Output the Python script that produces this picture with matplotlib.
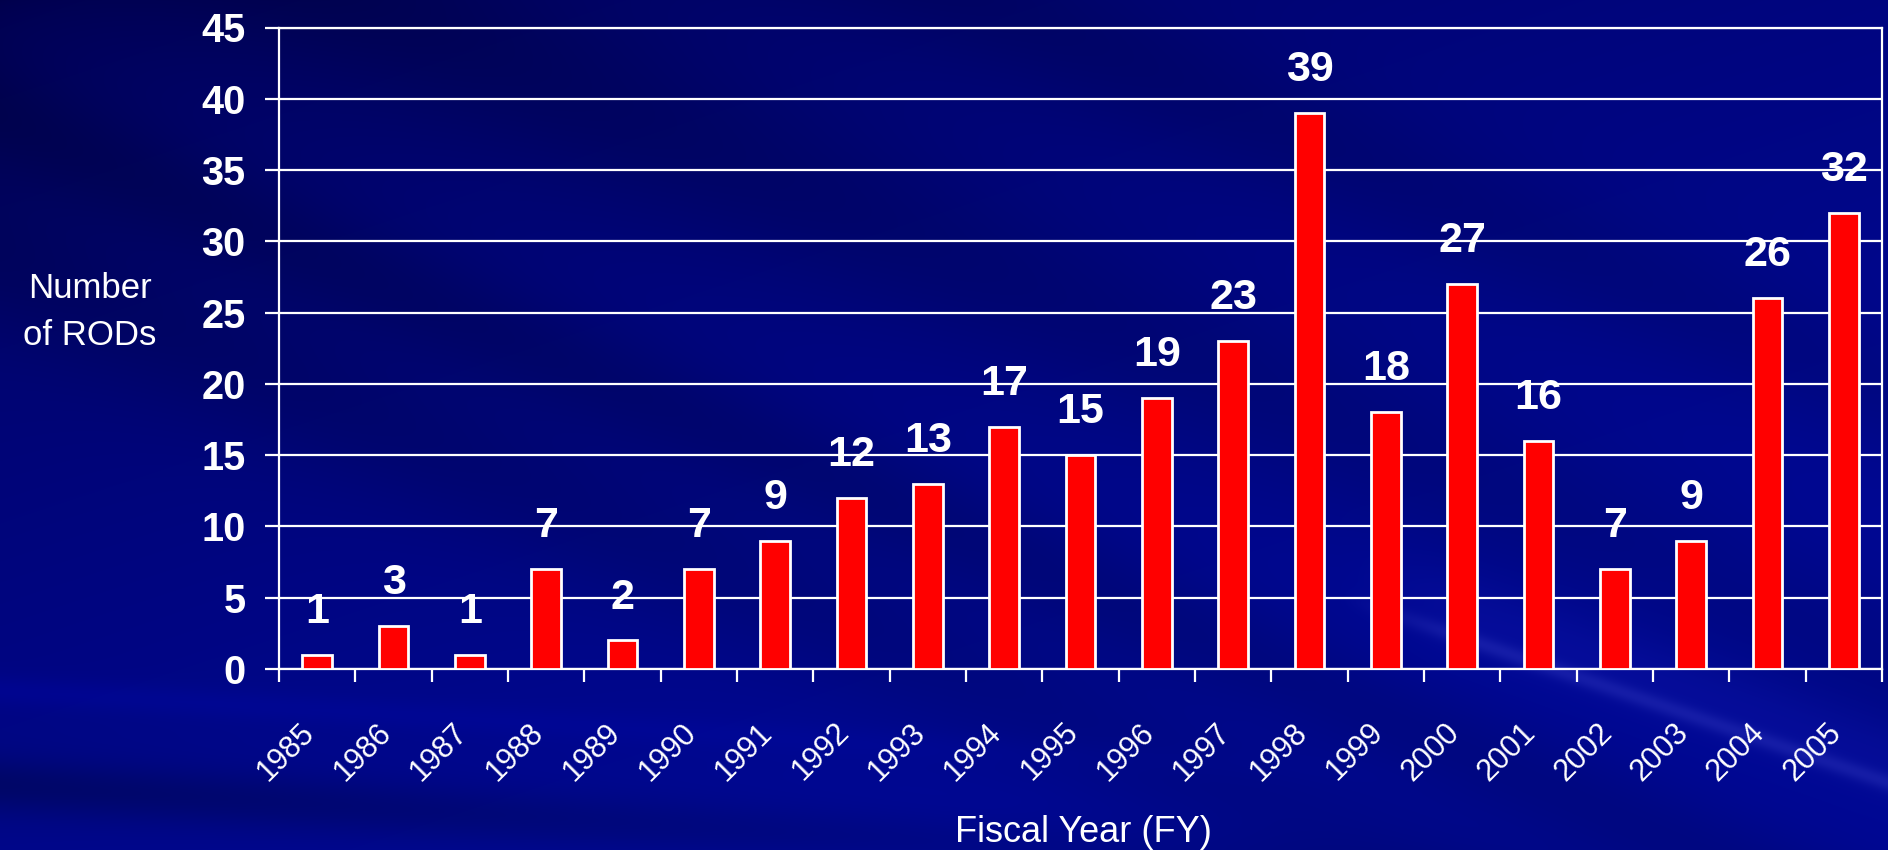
import numpy as np
import matplotlib
matplotlib.use("Agg")
import matplotlib.pyplot as plt
import matplotlib.transforms as mtransforms

plt.rcParams['font.family'] = ['Liberation Sans', 'DejaVu Sans']

# ---- data ----
years = ['1985', '1986', '1987', '1988', '1989', '1990', '1991', '1992', '1993', '1994',
         '1995', '1996', '1997', '1998', '1999', '2000', '2001', '2002', '2003', '2004', '2005']
rods = [1, 3, 1, 7, 2, 7, 9, 12, 13, 17, 15, 19, 23, 39, 18, 27, 16, 7, 9, 26, 32]
yticks = [0, 5, 10, 15, 20, 25, 30, 35, 40, 45]
ylabel_text = 'Number\nof RODs'
xlabel_text = 'Fiscal Year (FY)'

W, H, DPI = 1888, 850, 100
fig = plt.figure(figsize=(W / DPI, H / DPI), dpi=DPI)

# ---- background (decorative gradient with diagonal streaks) ----
yy, xx = np.mgrid[0:H, 0:W].astype(float)
base_dark = np.array([0.00, 0.00, 0.30])
base_bright = np.array([0.00, 0.03, 0.58])
t = np.clip((xx / W) * 0.55 + (yy / H) * 0.75, 0, 1) ** 0.55
img = base_dark[None, None, :] * (1 - t[..., None]) + base_bright[None, None, :] * t[..., None]
# dark diagonal streaks (upper-left to lower-right)
d = yy - 0.43 * xx
for c0, wdt, amt in [(120, 60, 0.07), (260, 80, 0.06), (-150, 90, 0.06), (-420, 70, 0.05)]:
    m = np.exp(-((d - c0) / wdt) ** 2)
    img[..., 2] -= amt * m
# darker band near bottom
d2 = yy - 0.06 * xx
m = np.exp(-((d2 - 785) / 28) ** 2)
img[..., 2] -= 0.12 * m * np.clip(1 - xx / 1700, 0, 1)
# lighter band near lower left
m = np.exp(-((d2 - 690) / 15) ** 2)
img[..., 2] += 0.05 * m * np.clip(1 - xx / 1500, 0, 1)
# light streak at lower right
d3 = yy - 0.34 * (xx - 1352) - 600
fade = np.clip((xx - 1340) / 120, 0, 1)
m = np.exp(-(d3 / 9) ** 2) * fade
m_wide = np.exp(-((d3 + 25) / 40) ** 2) * fade
img[..., 0] += 0.07 * m + 0.02 * m_wide
img[..., 1] += 0.07 * m + 0.02 * m_wide
img[..., 2] += 0.06 * m + 0.03 * m_wide
img = np.clip(img, 0, 1)

bg = fig.add_axes([0, 0, 1, 1], zorder=-10)
bg.imshow(img, aspect='auto', interpolation='bilinear')
bg.set_axis_off()

# ---- main axes ----
left, right = 279 / W, 1882 / W
bottom, top = 1 - 669 / H, 1 - 27.5 / H
ax = fig.add_axes([left, bottom, right - left, top - bottom])
ax.set_facecolor('none')

x = np.arange(len(years))
ax.bar(x, rods, width=0.39, color='#FF0000', edgecolor='white', linewidth=2, zorder=3)

ax.set_xlim(-0.5, len(years) - 0.5)
ax.set_ylim(0, 45)

ax.set_yticks(yticks)
ax.set_yticklabels([str(v) for v in yticks], fontsize=28.5, fontweight='bold', color='white')
ax.tick_params(axis='y', direction='out', length=10, width=1.6, color='white', pad=14)
ax.grid(axis='y', color='white', linewidth=1.6, zorder=1)
ax.set_axisbelow(True)

ax.set_xticks(x)
ax.set_xticklabels([])
ax.tick_params(axis='x', which='major', length=0)
ax.set_xticks(np.arange(-0.5, len(years), 1.0), minor=True)
ax.tick_params(axis='x', which='minor', direction='out', length=9, width=1.6, color='white')

for s in ax.spines.values():
    s.set_color('white')
    s.set_linewidth(1.6)

# x category labels (rotated)
trans = mtransforms.blended_transform_factory(ax.transData, ax.transAxes) + \
    mtransforms.ScaledTranslation(-0.07, -0.59, fig.dpi_scale_trans)
for i, lab in enumerate(years):
    ax.text(i, 0, lab, transform=trans, rotation=45, ha='right', va='center',
            rotation_mode='anchor', fontsize=22, color='white')

# data labels
for i, v in enumerate(rods):
    ax.annotate(str(v), (i, v), xytext=(0, 23), textcoords='offset points',
                ha='center', va='baseline', fontsize=31, fontweight='bold', color='white',
                annotation_clip=False)

# axis titles
fig.text(90 / W, 1 - 312 / H, ylabel_text, ha='center', va='center', multialignment='center',
         fontsize=25, color='white', linespacing=1.55)
fig.text(1083 / W, 1 - 842 / H, xlabel_text, ha='center', va='baseline', fontsize=26, color='white')

fig.savefig('out.png', dpi=DPI)
